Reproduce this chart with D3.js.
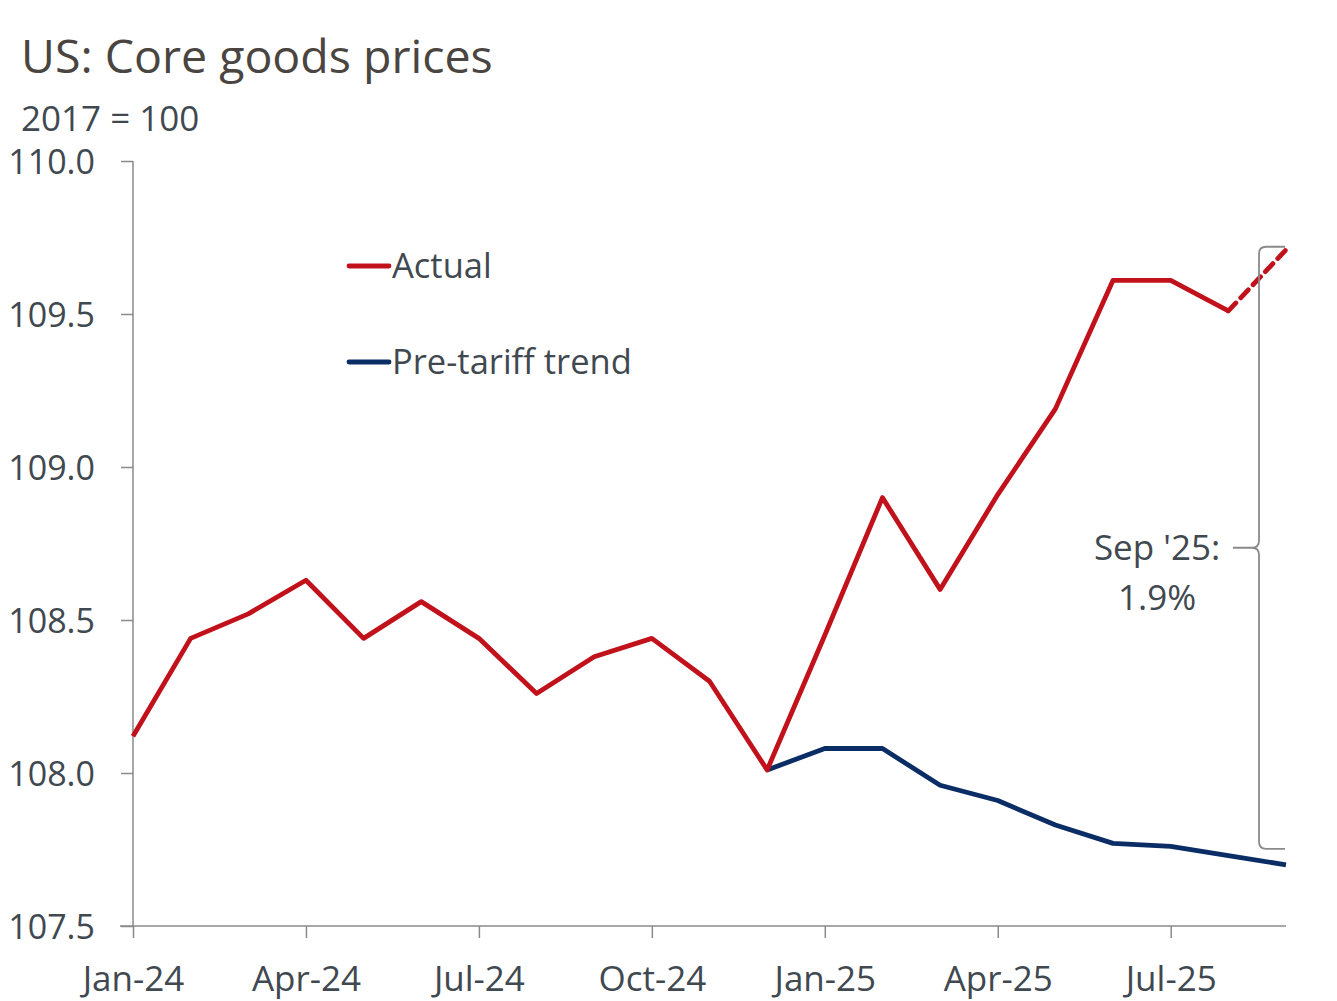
<!DOCTYPE html>
<html>
<head>
<meta charset="utf-8">
<script src="https://cdn.jsdelivr.net/npm/d3@7"></script>
<style>
  html, body { margin: 0; padding: 0; background: #fff; }
  svg { display: block; font-family: "Open Sans", "Noto Sans", sans-serif; }
</style>
</head>
<body>
<svg id="chart" width="1337" height="1001"></svg>
<script>
// Monthly index, Jan-24 .. Sep-25 (index 0..20)
const months = ["Jan-24","Feb-24","Mar-24","Apr-24","May-24","Jun-24","Jul-24","Aug-24","Sep-24","Oct-24","Nov-24","Dec-24",
                "Jan-25","Feb-25","Mar-25","Apr-25","May-25","Jun-25","Jul-25","Aug-25","Sep-25"];
const actual = [108.12,108.44,108.52,108.63,108.44,108.56,108.44,108.26,108.38,108.44,108.30,108.01,
                108.45,108.90,108.60,108.91,109.19,109.61,109.61,109.51,109.71];
// Pre-tariff trend starts at Dec-24 (index 11)
const trendStart = 11;
const trend = [108.01,108.08,108.08,107.96,107.91,107.83,107.77,107.76,107.73,107.70];
const xTickIdx = [0,3,6,9,12,15,18];
const yTicks = [107.5,108.0,108.5,109.0,109.5,110.0];

const RED = "#c1121c", NAVY = "#0b2d66", AXIS = "#8a8a8a", TXT = "#404850";
const FONT = "'Open Sans', 'Noto Sans', sans-serif";

const svg = d3.select("#chart");
const x = d3.scaleLinear().domain([0, 20]).range([133, 1286]);
const y = d3.scaleLinear().domain([107.5, 110]).range([926, 161]);

// Title and unit note
svg.append("text").attr("x", 21).attr("y", 73).attr("font-size", 46.5).attr("fill", "#4a4540")
  .text("US: Core goods prices");
svg.append("text").attr("x", 21).attr("y", 131).attr("font-size", 35).attr("fill", TXT)
  .text("2017 = 100");

// Y axis
const yAxis = svg.append("g").attr("transform", "translate(133,0)")
  .call(d3.axisLeft(y).tickValues(yTicks).tickFormat(d3.format(".1f")).tickSize(12).tickPadding(26));
yAxis.select(".domain").attr("stroke", AXIS).attr("stroke-width", 1.5).attr("d", "M0,161V926");
yAxis.selectAll(".tick line").attr("stroke", AXIS).attr("stroke-width", 1.5);
yAxis.selectAll(".tick text").attr("font-size", 34).attr("fill", TXT)
  .attr("font-family", FONT).attr("dy", "0.36em");

// X axis
const xAxis = svg.append("g").attr("transform", "translate(0,926)")
  .call(d3.axisBottom(x).tickValues(xTickIdx).tickFormat(i => months[i]).tickSize(12));
xAxis.select(".domain").attr("stroke", AXIS).attr("stroke-width", 1.5).attr("d", "M120,0H1286");
xAxis.selectAll(".tick line").attr("stroke", AXIS).attr("stroke-width", 1.5);
xAxis.selectAll(".tick text").attr("font-size", 35).attr("fill", TXT)
  .attr("font-family", FONT).attr("y", 65).attr("dy", 0);

const line = d3.line().x(d => x(d[0])).y(d => y(d[1]));

// Actual: solid through Aug-25, dashed for Sep-25
const actualPts = actual.map((v, i) => [i, v]);
const solidPts = actualPts.slice(0, actualPts.length - 1);
const dashPts = actualPts.slice(actualPts.length - 2);

// Trend line
const trendPts = trend.map((v, i) => [trendStart + i, v]);
svg.append("path").datum(trendPts).attr("d", line).attr("fill", "none")
  .attr("stroke", NAVY).attr("stroke-width", 4.8).attr("stroke-linejoin", "round");

svg.append("path").datum(solidPts).attr("d", line).attr("fill", "none")
  .attr("stroke", RED).attr("stroke-width", 4.8).attr("stroke-linejoin", "round");
svg.append("path").datum(dashPts).attr("d", line).attr("fill", "none")
  .attr("stroke", RED).attr("stroke-width", 4.8).attr("stroke-dasharray", "11,7")
  .attr("stroke-linecap", "round");

// Legend
const legend = [{label: "Actual", color: RED, y: 266}, {label: "Pre-tariff trend", color: NAVY, y: 362}];
legend.forEach(l => {
  svg.append("line").attr("x1", 349).attr("x2", 389).attr("y1", l.y).attr("y2", l.y)
    .attr("stroke", l.color).attr("stroke-width", 4.8).attr("stroke-linecap", "round");
  svg.append("text").attr("x", 392).attr("y", l.y).attr("dy", "0.36em").attr("font-size", 34.5)
    .attr("fill", TXT).text(l.label);
});

// Gap bracket between actual and trend at Sep-25
const last = actual.length - 1;
const yTop = y(actual[last]) - 3, yBot = y(trend[trend.length - 1]) - 16;
const bx = 1259, hookR = 1285, yMid = (yTop + yBot) / 2;
const r = 7;
svg.append("path")
  .attr("d", `M${hookR},${yTop} H${bx + r} Q${bx},${yTop} ${bx},${yTop + r} V${yMid - r} Q${bx},${yMid} ${bx - r},${yMid} H${bx - 26}
              M${bx - r},${yMid} Q${bx},${yMid} ${bx},${yMid + r} V${yBot - r} Q${bx},${yBot} ${bx + r},${yBot} H${hookR}`)
  .attr("fill", "none").attr("stroke", AXIS).attr("stroke-width", 1.8);

const gap = (actual[last] / trend[trend.length - 1] - 1) * 100;
svg.append("text").attr("x", 1157).attr("y", yMid).attr("dy", "0.36em").attr("text-anchor", "middle")
  .attr("font-size", 35).attr("fill", TXT).text("Sep '25:");
svg.append("text").attr("x", 1157).attr("y", yMid + 50).attr("dy", "0.36em").attr("text-anchor", "middle")
  .attr("font-size", 35).attr("fill", TXT).text(gap.toFixed(1) + "%");
</script>
</body>
</html>
